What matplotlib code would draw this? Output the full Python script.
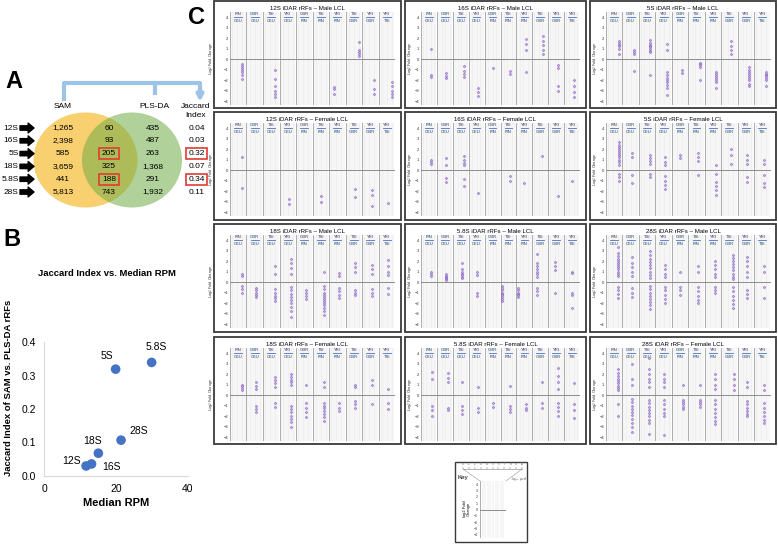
import matplotlib.pyplot as plt
from matplotlib.patches import Ellipse, Rectangle

plt.rcParams['font.family'] = ['Liberation Sans', 'DejaVu Sans']

# ---- panel A: Venn counts per rRNA ----
rrf_types = ["12S", "16S", "5S", "18S", "5.8S", "28S"]
sam_only = ["1,265", "2,398", "585", "3,659", "441", "5,813"]
shared = ["60", "93", "205", "325", "188", "743"]
plsda_only = ["435", "487", "263", "1,368", "291", "1,932"]
jaccard = [0.04, 0.03, 0.32, 0.07, 0.34, 0.11]
highlight = [False, False, True, False, True, False]

# ---- panel B: Jaccard vs median RPM ----
median_rpm = [11.7, 13.2, 19.9, 15.1, 29.9, 21.4]
jaccard_pt = [0.030, 0.036, 0.319, 0.068, 0.339, 0.107]
label_off = [(-15, 5), (20, -3), (-9, 13), (-6, 12), (5, 15), (18, 9)]

# ---- panel C: comparisons and iDAR rRFs (-log10 p position, log2 FC values) ----
pair_top = ["FIN", "GBR", "TSI", "YRI", "GBR", "TSI", "YRI", "TSI", "YRI", "YRI"]
pair_bot = ["CEU", "CEU", "CEU", "CEU", "FIN", "FIN", "FIN", "GBR", "GBR", "TSI"]

rrf_12s_male = [
    (7, [-0.5, -0.7, -0.9, -1.0, -1.2, -1.5, -1.9]), (0, []),
    (7, [-1.0, -1.9, -2.6, -3.0, -3.3, -3.6]), (0, []), (0, []), (0, []),
    (3, [-2.7, -2.9, -3.3]), (8, [1.6, 0.9, 0.7, 0.5, 0.3]),
    (7, [-2.0, -2.9, -3.3]), (8, [-2.2, -2.6, -3.0, -3.3, -3.6])]
rrf_16s_male = [
    (6, [1.0, -1.5, -1.7]), (6, [-1.3, -1.6, -1.8]), (7, [-0.7, -1.1, -1.4, -1.7]),
    (6, [-2.8, -3.1, -3.5]), (5, [-0.9]), (6, [-1.1, -1.4]),
    (6, [1.9, 1.4, 0.9, -1.2]), (7, [2.2, 1.7, 1.3, 0.9, 0.5]),
    (6, [-0.6, -0.9, -2.6, -3.0]), (6, [-2.0, -2.6, -3.1, -3.6])]
rrf_5s_male = [
    (8, [1.7, 1.5, 1.3, 1.2, 1.0, 0.5]), (7, [0.9, 0.7, 0.5, -1.1]),
    (7, [1.8, 1.5, 1.3, 1.2, 1.1, 1.0, 0.8, 0.7, -1.5]),
    (7, [1.4, 0.9, -1.2, -1.5, -1.8, -2.0, -2.2, -2.5, -2.8, -3.4]),
    (6, [-1.0, -1.3]), (7, [-0.4, -0.5, -0.6, -0.8, -2.0]),
    (7, [-1.2, -1.4, -1.6, -1.8, -2.0, -2.2, -2.8]), (6, [1.7, 1.2, 0.9, 0.5]),
    (7, [-0.8, -1.0, -1.2, -1.4, -1.6, -1.8, -2.0, -2.4, -2.6]),
    (7, [-1.2, -1.4, -1.5, -1.6, -1.8, -2.0, -2.6])]
rrf_12s_female = [
    (7, [1.2, -1.7]), (0, []), (0, []), (6, [-2.8, -3.2]), (0, []),
    (5, [-2.5, -3.0]), (0, []), (6, [-1.8, -2.6]), (6, [-1.9, -2.4, -3.4]), (6, [-3.1])]
rrf_16s_female = [
    (6, [1.0, 0.8, 0.6]), (6, [1.1, 0.5, -0.8, -1.1]),
    (7, [1.3, 1.0, 0.7, 0.5, -0.9, -1.5]), (6, [-2.2]), (0, []),
    (6, [-0.6, -1.0]), (5, [-1.2]), (6, [1.3]), (6, [-2.5]), (5, [-1.0])]
rrf_5s_female = [
    (8, [2.7, 2.4, 2.2, 2.0, 1.8, 1.6, 1.4, 1.2, 1.0, 0.8, 0.5, -0.4, -0.7, -1.0]),
    (6, [1.6, 1.2, -0.5, -1.2]), (7, [1.4, 1.1, 0.9, 0.6, -0.4, -0.7]),
    (6, [1.2, 0.8, 0.5, -0.6, -1.0, -1.4, -1.8]), (5, [1.4, 1.1]),
    (6, [1.6, 1.2, 0.9, -0.5]), (7, [0.5, -0.4, -1.1, -1.5, -1.9, -2.4]),
    (6, [2.0, 1.4, 0.6]), (6, [1.4, 1.0, 0.6, -0.7, -1.1]),
    (6, [1.0, 0.6, -0.5, -1.2, -1.6])]
rrf_18s_male = [
    (7, [0.8, 0.6, -0.4, -0.7, -1.0]), (6, [-0.6, -0.8, -1.0, -1.2, -1.4]),
    (7, [1.5, 0.8, -0.7, -1.0, -1.3, -1.5, -1.8]),
    (7, [2.2, 1.8, 1.3, 0.8, -0.5, -0.8, -1.1, -1.4, -1.7, -2.0, -2.4, -2.8, -3.3]),
    (6, [-0.8, -1.0, -1.3, -1.6]),
    (7, [1.0, -0.4, -0.7, -1.0, -1.2, -1.4, -1.6, -1.8, -2.0, -2.2, -2.5, -2.8, -3.1]),
    (6, [0.9, 0.6, -0.6, -0.9, -1.2, -1.5]), (6, [1.8, 1.4, 1.0, -0.8, -1.0, -1.2]),
    (6, [1.6, 1.2, 0.8, -0.7, -1.0, -1.3]), (6, [2.1, 1.5, 1.0, 0.7, -0.6, -1.1])]
rrf_58s_male = [
    (6, [1.0, 0.8, 0.6]), (6, [0.8, 0.6, 0.5, 0.4, 0.3, 0.2]),
    (6, [1.8, 1.2, 1.0, 0.8, 0.7, 0.5, 0.4]), (5, [1.0, 0.7, -1.0, -1.3]), (0, []),
    (1, [-0.4, -0.6, -0.8, -1.0, -1.1, -1.2, -1.4, -1.6, -1.8]),
    (1, [-0.6, -0.8, -1.0, -1.1, -1.2, -1.4]),
    (3, [2.7, 1.8, 1.5, 1.2, 1.0, 0.8, 0.5, -0.6, -0.9, -1.2]),
    (4, [1.9, 1.5, 1.1, -1.0]), (5, [1.0, 0.9, -1.0, -1.2, -2.5])]
rrf_28s_male = [
    (7, [3.3, 2.8, 2.5, 2.2, 2.0, 1.8, 1.6, 1.4, 1.2, 1.0, 0.8, 0.6, -0.5, -0.8, -1.1, -1.5]),
    (6, [2.4, 1.8, 1.4, 1.0, 0.6, -0.6, -1.0, -1.4]),
    (7, [3.0, 2.6, 2.2, 1.9, 1.6, 1.3, 1.0, 0.7, 0.4, -0.4, -0.7, -1.0, -1.3, -1.6, -1.9, -2.2, -2.6]),
    (6, [1.6, 1.2, 0.8, 0.5, -0.5, -0.8, -1.2, -1.6, -2.0]),
    (5, [1.0, -0.5, -0.8, -1.2]), (6, [1.5, 1.0, -0.5, -0.9, -1.3, -1.7, -2.0]),
    (6, [2.0, 1.6, 1.2, 0.8, 0.5, -0.5, -0.8, -1.0]),
    (7, [2.6, 2.3, 2.0, 1.7, 1.4, 1.1, 0.8, 0.5, 0.3, -0.5, -0.9, -1.3, -1.7, -2.1, -2.5]),
    (6, [2.4, 2.0, 1.5, 1.0, 0.5, -0.8, -1.1, -1.5]), (6, [1.5, 1.0, -0.5, -1.5])]
rrf_18s_female = [
    (7, [1.0, 0.9, 0.7, 0.5]), (6, [1.2, 0.9, 0.6, -1.0, -1.3, -1.6]),
    (7, [1.7, 1.4, 1.1, 0.8, -0.8, -1.1]),
    (7, [2.0, 1.7, 1.4, 1.2, 1.0, -1.0, -1.3, -1.6, -2.0, -2.3, -2.6, -3.0]),
    (6, [1.0, -0.8, -1.2, -1.6, -2.1]),
    (7, [1.2, 0.8, -0.8, -1.0, -1.2, -1.5, -1.8, -2.1, -2.5]),
    (6, [-0.8, -1.2, -1.5]), (6, [1.0, 0.8, -0.6, -0.9, -1.2]),
    (6, [1.4, 1.0, -0.9]), (6, [0.6, -0.8, -1.3])]
rrf_58s_female = [
    (7, [2.2, 1.5, -1.0, -1.4, -2.0]), (7, [2.1, 1.6, 1.2, -1.2, -1.4]),
    (6, [1.2, -1.0, -1.4, -1.8]), (6, [0.8, -1.2, -1.6]), (5, [-0.8, -1.1]),
    (6, [0.9, -1.0, -1.3, -1.6]), (6, [-0.9, -1.2, -1.4]), (6, [1.2, -0.8, -1.2]),
    (6, [2.6, 1.8, 1.2, 0.6, -0.8, -1.1, -1.5, -2.0]), (6, [1.1, -0.9, -1.4, -2.2])]
rrf_28s_female = [
    (7, [2.5, 2.1, 1.8, 1.5, 1.3, 1.1, 0.9, 0.7, 0.5, -0.9, -2.0]),
    (6, [3.0, 1.5, 1.0, -0.4, -0.7, -1.0, -1.3, -1.6, -1.9, -2.3, -2.7, -3.0, -3.5]),
    (6, [3.5, 2.5, 2.0, 1.5, 1.2, 0.8, -0.5, -0.8, -1.1, -1.4, -1.7, -2.0, -2.4, -2.7, -3.7]),
    (5, [2.0, 1.5, 1.2, 0.8, -0.5, -0.9, -1.3, -1.7, -2.0, -3.8]),
    (7, [1.0, -0.5, -0.7, -0.9, -1.1, -1.3]), (7, [1.0, -0.5, -0.7, -0.9, -1.1]),
    (6, [2.0, 1.5, 1.0, 0.6, -0.5, -0.9, -1.3, -1.7, -2.1, -2.5, -2.8]),
    (8, [2.0, 1.5, 1.0, 0.5]), (6, [1.2, 0.8, -0.6, -0.9, -1.2, -1.5, -1.8, -2.0]),
    (6, [1.0, 0.5, -0.8, -1.2, -1.6, -2.0, -2.4, -2.7])]

panel_titles = [
    "12S iDAR rRFs – Male LCL", "16S iDAR rRFs – Male LCL", "5S iDAR rRFs – Male LCL",
    "12S iDAR rRFs – Female LCL", "16S iDAR rRFs – Female LCL", "5S iDAR rRFs – Female LCL",
    "18S iDAR rRFs – Male LCL", "5.8S iDAR rRFs – Male LCL", "28S iDAR rRFs – Male LCL",
    "18S iDAR rRFs – Female LCL", "5.8S iDAR rRFs – Female LCL", "28S iDAR rRFs – Female LCL"]
panel_data = [rrf_12s_male, rrf_16s_male, rrf_5s_male,
              rrf_12s_female, rrf_16s_female, rrf_5s_female,
              rrf_18s_male, rrf_58s_male, rrf_28s_male,
              rrf_18s_female, rrf_58s_female, rrf_28s_female]

W, H = 778, 544
fig = plt.figure(figsize=(W / 100, H / 100), dpi=100)


def px_rect(x0, y0, x1, y1):
    return [x0 / W, 1 - y1 / H, (x1 - x0) / W, (y1 - y0) / H]


cv = fig.add_axes([0, 0, 1, 1])
cv.set_xlim(0, W)
cv.set_ylim(H, 0)
cv.axis('off')

# ================= A =================
cv.text(14, 82, "A", fontsize=17, fontweight='bold', ha='center', va='center')
cv.add_patch(Ellipse((85.5, 160), 104, 95, fc='#F9D06F', ec='none'))
cv.add_patch(Ellipse((132, 160), 100, 95, fc='#70AD47', alpha=0.55, ec='none'))

blue = '#9DC3E6'
cv.plot([64, 64, 200, 200], [101, 83, 83, 90], color=blue, lw=3,
        solid_joinstyle='round', solid_capstyle='butt')
cv.plot([155, 155], [83, 95], color=blue, lw=3, solid_capstyle='butt')
cv.annotate('', xy=(200, 102), xytext=(200, 88),
            arrowprops=dict(arrowstyle='-|>', color=blue, lw=3, mutation_scale=9,
                            shrinkA=0, shrinkB=0))

cv.text(63, 106, "SAM", fontsize=6, ha='center', va='center')
cv.text(154, 106, "PLS-DA", fontsize=6, ha='center', va='center')
cv.text(196, 111, "Jaccard\nIndex", fontsize=6, ha='center', va='center', linespacing=1.3)

red = '#E03C31'
for i, name in enumerate(rrf_types):
    y = 128 + i * 12.8
    cv.text(18.5, y, name, fontsize=6, ha='right', va='center')
    cv.annotate('', xy=(34, y), xytext=(20, y),
                arrowprops=dict(arrowstyle='simple,head_length=0.6,head_width=1.0,tail_width=0.45',
                                color='black', shrinkA=0, shrinkB=0, mutation_scale=7))
    cv.text(63, y, sam_only[i], fontsize=6, ha='center', va='center')
    cv.text(109, y, shared[i], fontsize=6, ha='center', va='center')
    cv.text(153, y, plsda_only[i], fontsize=6, ha='center', va='center')
    cv.text(196.5, y, f"{jaccard[i]:.2f}", fontsize=6, ha='center', va='center')
    if highlight[i]:
        cv.add_patch(Rectangle((99, y - 5.5), 20, 11, fill=False, ec=red, lw=1.2))
        cv.add_patch(Rectangle((186, y - 5.5), 21, 11, fill=False, ec=red, lw=1.2))

# ================= B =================
cv.text(12, 240, "B", fontsize=17, fontweight='bold', ha='center', va='center')
cv.text(107, 273, "Jaccard Index vs. Median RPM", fontsize=6.8, fontweight='bold',
        ha='center', va='center')
axb = fig.add_axes(px_rect(44, 342, 188, 476))
axb.scatter(median_rpm, jaccard_pt, s=48, color='#4472C4', zorder=3, clip_on=False,
            edgecolors='none')
for name, x, y, off in zip(rrf_types, median_rpm, jaccard_pt, label_off):
    axb.annotate(name, (x, y), xytext=off, textcoords='offset pixels',
                 ha='center', va='center', fontsize=7.5)
axb.set_xlim(0, 40)
axb.set_ylim(0, 0.4)
axb.set_xticks([0, 20, 40])
axb.set_yticks([0, 0.1, 0.2, 0.3, 0.4])
axb.set_yticklabels(["0.0", "0.1", "0.2", "0.3", "0.4"])
for s in ['top', 'right']:
    axb.spines[s].set_visible(False)
for s in ['left', 'bottom']:
    axb.spines[s].set_color('#d9d9d9')
axb.tick_params(length=0, labelsize=7.5, pad=6)
axb.set_facecolor('none')
axb.set_xlabel("Median RPM", fontsize=8, fontweight='bold', labelpad=3)
cv.text(9, 388, "Jaccard Index of SAM vs. PLS-DA rRFs", rotation=90, fontsize=6.8,
        fontweight='bold', ha='center', va='center')

# ================= C =================
cv.text(197, 18, "C", fontsize=17, fontweight='bold', ha='center', va='center')

col_x = [(214, 401), (405, 586), (590, 776.5)]
row_y = [(1, 108), (112, 220), (224, 332), (337, 444)]
navy = '#1F3864'


def draw_grid(ax, n_groups):
    for g in range(n_groups):
        for k in range(1, 10):
            ax.axvline(g * 10 + k, color='#d6d6d6', lw=0.3, zorder=0)
        ax.axvline(g * 10, color='#a0a0a0', lw=0.6, zorder=1)
    ax.axvline(n_groups * 10, color='#a0a0a0', lw=0.6, zorder=1)
    ax.axhline(0, color='#8c8c8c', lw=0.7, zorder=1)
    ax.set_xlim(0, n_groups * 10)
    ax.set_ylim(-4.38, 4.48)
    ax.set_xticks([])
    ax.set_yticks(range(-4, 5))
    ax.tick_params(length=0, labelsize=3, pad=1.5, labelcolor='#333333')
    for s in ax.spines.values():
        s.set_visible(False)
    ax.set_facecolor('none')


for idx, (title, groups) in enumerate(zip(panel_titles, panel_data)):
    r, c = divmod(idx, 3)
    x0, x1 = col_x[c]
    y0, y1 = row_y[r]
    cv.add_patch(Rectangle((x0, y0), x1 - x0, y1 - y0, fill=False, ec='#3a3a3a', lw=1.3))
    cv.text((x0 + x1) / 2, y0 + 7.5, title, fontsize=4.4, ha='center', va='center')
    lab_x = x0 - 3 if c == 0 else x0 + 5
    cv.text(lab_x, y0 + 57, "Log$_2$ Fold Change", rotation=90, fontsize=2.8,
            ha='center', va='center', color='#333333')

    ax = fig.add_axes(px_rect(x0 + 16, y0 + 11, x1 - 6, y0 + 104))
    draw_grid(ax, len(pair_top))
    for g, (top, bot) in enumerate(zip(pair_top, pair_bot)):
        xc = g * 10 + 5
        ax.text(xc, 4.25, top, fontsize=3, ha='center', va='center', color=navy)
        ax.plot([xc - 2.4, xc + 2.4], [3.98, 3.98], color='#4472C4', lw=0.6)
        ax.text(xc, 3.66, bot, fontsize=3, ha='center', va='center', color=navy)
    for g, (pv, vals) in enumerate(groups):
        if vals:
            ax.plot([g * 10 + pv] * len(vals), vals, 'D', ms=1.5, mfc='#b7a0de',
                    mec='#7d55bd', mew=0.3, alpha=0.85, zorder=3)

# ---- key ----
cv.add_patch(Rectangle((455, 462), 72, 80, fill=False, ec='#3a3a3a', lw=1.0))
cv.text(458, 477, "Key", fontsize=4.5, ha='left', va='center')
cv.text(467, 509, "log2 Fold\nChange", rotation=90, fontsize=3, ha='center', va='center',
        linespacing=1.1)
axs = fig.add_axes(px_rect(463, 469, 522, 470))
axs.set_xlim(0, 10)
axs.set_xticks(range(0, 11))
axs.xaxis.set_ticks_position('top')
axs.tick_params(length=1.5, width=0.3, labelsize=2.2, pad=0.5, colors='#555555')
axs.set_yticks([])
for s in ['left', 'right', 'bottom']:
    axs.spines[s].set_visible(False)
axs.spines['top'].set_linewidth(0.4)
axs.spines['top'].set_color('#777777')
axs.set_facecolor('none')
cv.plot([463, 480], [469, 481], color='#999999', lw=0.4)
cv.plot([522, 506], [469, 481], color='#999999', lw=0.4)
cv.text(510, 479, "–log$_{10}$ p-val", fontsize=2.2, ha='left', va='center', color='#555555')
axk = fig.add_axes(px_rect(480, 481, 506, 538))
draw_grid(axk, 1)
axk.set_ylim(-4.5, 4.5)
axk.tick_params(labelsize=2.5)

fig.savefig("out.png", dpi=100)
